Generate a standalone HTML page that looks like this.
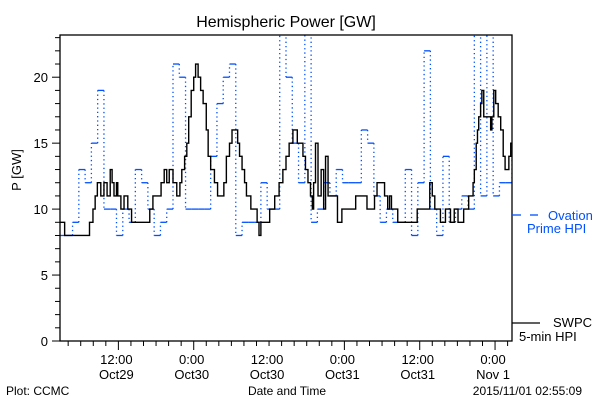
<!DOCTYPE html>
<html><head><meta charset="utf-8"><style>
body{margin:0;background:#fff;width:600px;height:400px;overflow:hidden}
svg{display:block;font-family:"Liberation Sans",sans-serif}
</style></head><body>
<svg id="chart" width="600" height="400" viewBox="0 0 600 400">
<text x="286" y="27" font-size="16" text-anchor="middle">Hemispheric Power [GW]</text>
<text transform="translate(21,170) rotate(-90)" font-size="13" text-anchor="middle">P [GW]</text>
<text x="287" y="395" font-size="12" text-anchor="middle">Date and Time</text>
<text x="6" y="395" font-size="12">Plot: CCMC</text>
<text x="582" y="395" font-size="12" text-anchor="end">2015/11/01 02:55:09</text>
<g id="axes"></g>
<g id="series"></g>
<rect x="60" y="35" width="452" height="306" fill="none" stroke="#000" stroke-width="1.3"/>
<g>
<line x1="512" y1="215" x2="521" y2="215" stroke="#0050ff" stroke-width="1.3"/>
<line x1="530" y1="215" x2="538" y2="215" stroke="#0050ff" stroke-width="1.3"/>
<text x="548" y="220" font-size="13" fill="#0050ff">Ovation</text>
<text x="527" y="233" font-size="13" fill="#0050ff">Prime HPI</text>
<line x1="512" y1="323" x2="540" y2="323" stroke="#000" stroke-width="1.3"/>
<text x="553" y="327" font-size="13">SWPC</text>
<text x="519" y="341" font-size="13">5-min HPI</text>
</g>
</svg>
<script>
const ovationValues=[8,8,9,13,12,15,19,10,10,8,10,9,13,12,10,8,9,10,21,20,10,10,10,10,14,18,20,21,8,9,9,9,12,10,10,24,20,15,12,24,9,10,12,11,13,12,12,12,16,15,11,9,10,9,9,13,8,12,22,10,8,14,9,10,11,10,24,11,24,11,12,12,15];
const swpcTimes=[0,0.74,4.7,5.25,5.6,5.95,6.5,7.0,7.5,8.0,8.3,8.6,9.0,9.2,9.7,10.2,10.8,11.4,14.3,14.8,16.1,16.6,17.0,17.4,18,18.6,19.1,19.4,19.85,20.2,20.5,20.9,21.3,21.6,22,22.4,22.8,23.3,23.6,24.0,24.6,25.1,25.7,26.1,26.5,27.0,27.4,27.8,28.3,28.6,29.0,29.4,29.7,30.4,31.4,31.7,32.0,33.4,34.2,34.9,35.5,36.0,36.5,37.1,37.8,38.7,39.1,39.5,39.9,40.2,40.4,40.7,41.1,41.6,42.0,42.3,42.7,43.7,44.2,44.9,47.1,48.9,50.1,50.5,51.7,52.2,52.5,52.8,53.8,56.9,58.9,59.3,59.7,60.6,61.4,62.2,62.8,63.4,64.3,65.1,65.4,65.8,66.0,66.3,66.5,66.7,67.0,67.2,67.5,67.9,68.6,68.8,69.1,69.4,69.8,70.2,70.6,70.9,71.5,71.8];
const swpcValues=[9,8,9,10,11,12,11,12,11,13,12,11,12,11,10,11,10,9,10,11,12,13,12,13,12,11,12,13,14,15,17,19,20,21,20,19,18,16,14,13,12,11,11,12,14,15,16,16,15,14,13,12,11,10,9,8,9,10,11,12,13,14,15,16,15,14,13,12,11,10,12,15,11,13,10,14,11,11,9,10,11,10,11,12,11,10,11,10,9,10,12,11,10,9,10,9,10,9,10,11,11,12,13,15,16,17,18,19,17,17,16,17,19,18,17,16,14,13,14,15];
const yTickLabels=["0","5","10","15","20"];
const xTickLabels=[["12:00","Oct29"],["0:00","Oct30"],["12:00","Oct30"],["0:00","Oct31"],["12:00","Oct31"],["0:00","Nov 1"]];
const firstMajorHour=9.3;
const L=60,R=512,T=35,B=341,HOURS=72,YMAX=23.2;
const X=h=>L+(R-L)*h/HOURS;
const Y=v=>B-(B-T)*v/YMAX;
const NS="http://www.w3.org/2000/svg";
const axes=document.getElementById('axes');
const series=document.getElementById('series');
function mk(tag,attrs,parent){const e=document.createElementNS(NS,tag);for(const k in attrs)e.setAttribute(k,attrs[k]);parent.appendChild(e);return e;}
for(let v=0;v<=23;v++){
 const major=v%5===0;
 const t=mk('line',{x1:L-(major?8:5),x2:L,y1:Y(v),y2:Y(v),stroke:'#000','stroke-width':1},axes);
 
 
}
yTickLabels.forEach(s=>{
 const tx=mk('text',{x:L-12,y:Y(+s)+5,'font-size':13,'text-anchor':'end'},axes);
 tx.textContent=s;
 
 
});
for(let h=firstMajorHour-8;h<=HOURS;h+=2){
 if(h<0)continue;
 const major=Math.abs(((h-firstMajorHour)%12+12)%12)<0.01;
 const t=mk('line',{x1:X(h),x2:X(h),y1:B,y2:B+(major?9:5),stroke:'#000','stroke-width':1},axes);
 
 
}
xTickLabels.forEach((p,i)=>{
 const h=firstMajorHour+12*i;
 const a=mk('text',{x:X(h)-2,y:364,'font-size':13,'text-anchor':'middle'},axes);
 a.textContent=p[0];
 
 
 const b=mk('text',{x:X(h)-2,y:379,'font-size':13,'text-anchor':'middle'},axes);
 b.textContent=p[1];
 
 
});
const clipDef=mk('clipPath',{id:'plotclip'},mk('defs',{},series));
mk('rect',{x:L,y:T,width:R-L,height:B-T},clipDef);
series.setAttribute('clip-path','url(#plotclip)');
ovationValues.forEach((v,i)=>{
 const x1=X(i),x2=Math.min(X(i+1),R);
 const h=mk('line',{x1:x1,x2:x2,y1:Y(v),y2:Y(v),stroke:'#0050ff','stroke-width':1.3},series);
 
 
 if(i>0){
  const d=mk('line',{x1:x1,x2:x1,y1:Y(ovationValues[i-1]),y2:Y(v),stroke:'#0050ff','stroke-width':1.3,'stroke-dasharray':'1.3 3'},series);
  
  
 }
});
let pts=[];
swpcTimes.forEach((t,i)=>{
 const tn=i+1<swpcTimes.length?swpcTimes[i+1]:HOURS;
 pts.push(X(t)+','+Y(swpcValues[i]));
 pts.push(X(tn)+','+Y(swpcValues[i]));
});
const pl=mk('polyline',{points:pts.join(' '),fill:'none',stroke:'#000','stroke-width':1.4},series);


</script>
</body></html>
